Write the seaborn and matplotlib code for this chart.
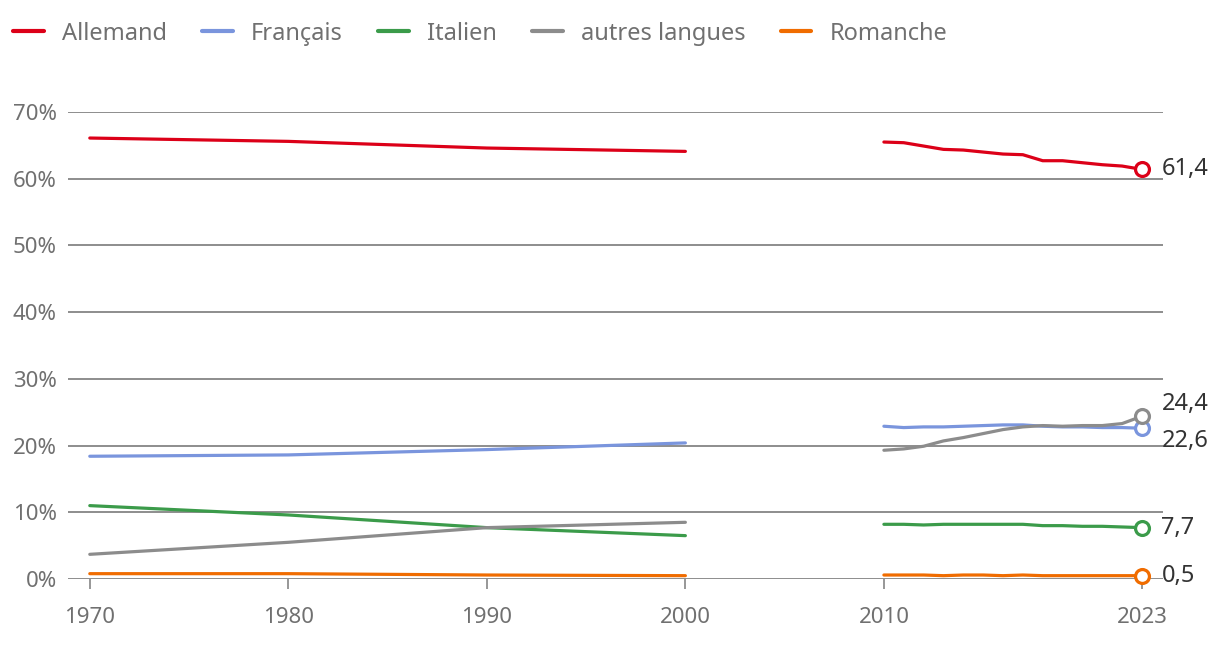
import seaborn as sns
import matplotlib.pyplot as plt
import pandas as pd

# -----------------------------
# Data (share of population, %)
# -----------------------------
census_years = [1970, 1980, 1990, 2000]
annual_years = list(range(2010, 2024))

langues = ["Allemand", "Français", "Italien", "autres langues", "Romanche"]
couleurs = ["#dc0018", "#7a95dd", "#3b9b4a", "#8c8c8c", "#f06c00"]

allemand_census = [66.1, 65.6, 64.6, 64.1]
francais_census = [18.4, 18.6, 19.4, 20.4]
italien_census = [11.0, 9.6, 7.7, 6.5]
autres_census = [3.7, 5.5, 7.7, 8.5]
romanche_census = [0.8, 0.8, 0.6, 0.5]

allemand_annual = [65.5, 65.4, 64.9, 64.4, 64.3, 64.0, 63.7, 63.6, 62.7, 62.7, 62.4, 62.1, 61.9, 61.4]
francais_annual = [22.9, 22.7, 22.8, 22.8, 22.9, 23.0, 23.1, 23.1, 22.9, 22.8, 22.8, 22.7, 22.7, 22.6]
italien_annual = [8.2, 8.2, 8.1, 8.2, 8.2, 8.2, 8.2, 8.2, 8.0, 8.0, 7.9, 7.9, 7.8, 7.7]
autres_annual = [19.3, 19.5, 19.9, 20.7, 21.2, 21.8, 22.4, 22.8, 23.0, 22.9, 23.0, 23.0, 23.3, 24.4]
romanche_annual = [0.6, 0.6, 0.6, 0.5, 0.6, 0.6, 0.5, 0.6, 0.5, 0.5, 0.5, 0.5, 0.5, 0.5]

census = [allemand_census, francais_census, italien_census, autres_census, romanche_census]
annual = [allemand_annual, francais_annual, italien_annual, autres_annual, romanche_annual]

end_labels = ["61,4", "22,6", "7,7", "24,4", "0,5"]
label_dy = [0, -9, 0, 9, 0]  # points, to keep the labels apart

rows = []
for lang, c_vals, a_vals in zip(langues, census, annual):
    for y, v in zip(census_years, c_vals):
        rows.append({"annee": y, "part": v, "langue": lang, "periode": "recensement"})
    for y, v in zip(annual_years, a_vals):
        rows.append({"annee": y, "part": v, "langue": lang, "periode": "relevé"})
df = pd.DataFrame(rows)

# -----------------------------
# Style
# -----------------------------
sns.set_style("white")
plt.rcParams["font.family"] = ["Noto Sans", "DejaVu Sans"]
grey_txt = "#707070"

fig = plt.figure(figsize=(12.2, 6.46), dpi=100)
ax = fig.add_axes([0.0557, 0.1037, 0.8976, 0.7229])

sns.lineplot(
    data=df, x="annee", y="part", hue="langue", units="periode",
    estimator=None, palette=dict(zip(langues, couleurs)), hue_order=langues,
    linewidth=2.3, ax=ax, legend=True, zorder=3,
)

# open circles + labels at the last value
for lang, col, a_vals, lab, dy in zip(langues, couleurs, annual, end_labels, label_dy):
    ax.plot(annual_years[-1], a_vals[-1], "o", ms=10, mfc="white", mec=col,
            mew=2.3, zorder=5, clip_on=False)
    ax.annotate(lab, (annual_years[-1], a_vals[-1]), xytext=(14, dy),
                textcoords="offset points", va="center", ha="left",
                fontsize=17, color="#333333", annotation_clip=False)

ax.set_xlim(1968.9, 2024.06)
ax.set_ylim(0, 70)
ax.set_yticks(range(0, 71, 10))
ax.set_yticklabels([f"{v}%" for v in range(0, 71, 10)])
ax.set_xticks([1970, 1980, 1990, 2000, 2010, 2023])
ax.set_xlabel("")
ax.set_ylabel("")

ax.grid(axis="y", color="#858585", linewidth=1.3)
ax.grid(axis="x", visible=False)
ax.set_axisbelow(True)
for s in ax.spines.values():
    s.set_visible(False)

ax.tick_params(axis="y", length=0, pad=8, labelsize=16, labelcolor=grey_txt)
ax.tick_params(axis="x", length=7, width=1.2, color="#858585", direction="out",
               pad=13, labelsize=16, labelcolor=grey_txt, bottom=True)

# legend across the top
handles, labels = ax.get_legend_handles_labels()
ax.get_legend().remove()
leg = fig.legend(handles, labels, loc="center left", bbox_to_anchor=(0.003, 0.948),
                 ncol=5, frameon=False, fontsize=17, handlelength=1.3,
                 handletextpad=0.76, columnspacing=1.5, borderaxespad=0)
for h in leg.get_lines():
    h.set_linewidth(3)
for t in leg.get_texts():
    t.set_color(grey_txt)

plt.savefig("out.png", dpi=100)
plt.close()
